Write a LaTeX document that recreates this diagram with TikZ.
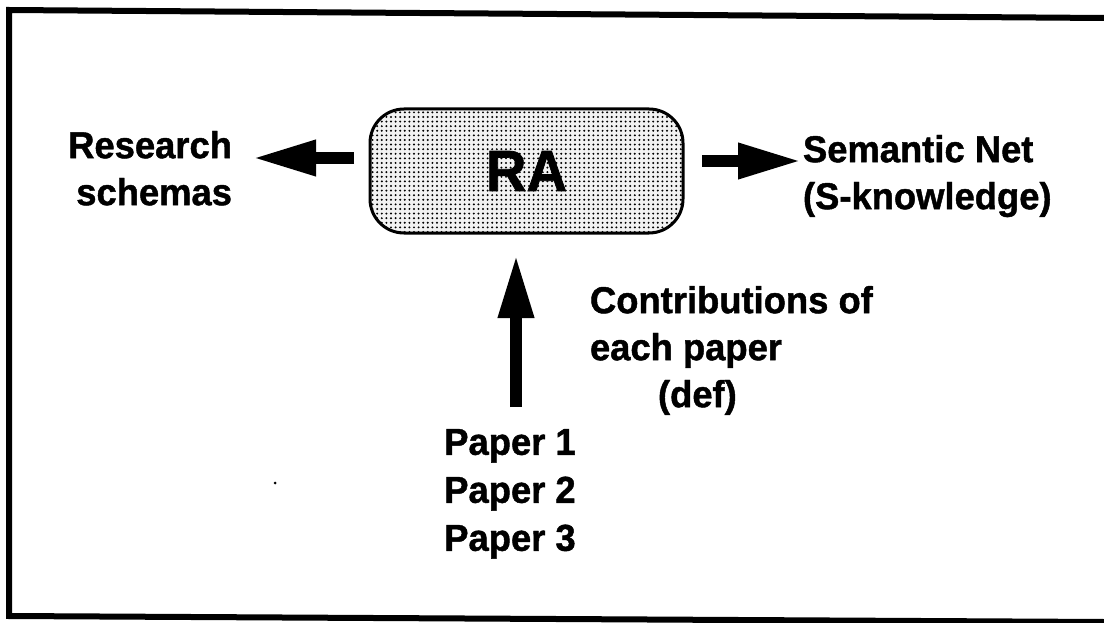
\documentclass[tikz,border=0pt]{standalone}
\usepackage{fontspec}
\setmainfont{Liberation Sans}[BoldFeatures={FakeBold=1.2, FakeStretch=0.97}]
\usetikzlibrary{arrows.meta,patterns.meta}

% fine screen of dots for the shaded box
\pgfdeclarepattern{
  name=screendots,
  type=uncolored,
  bottom left={\pgfpoint{-1.2pt}{-1.2pt}},
  top right={\pgfpoint{1.2pt}{1.2pt}},
  tile size={\pgfpoint{4.6pt}{4.6pt}},
  code={\pgfpathcircle{\pgfpointorigin}{1.1pt}\pgfusepath{fill}}
}

\tikzset{
  label text/.style={inner sep=0pt, outer sep=0pt,
    font=\bfseries\fontsize{37.5}{47}\selectfont},
  agent box/.style={draw, line width=3pt, rounded corners=34pt,
    inner sep=0pt, outer sep=0pt,
    minimum width=313pt, minimum height=124pt,
    preaction={fill=gray!10}, pattern=screendots, pattern color=black,
    font=\bfseries\fontsize{58}{60}\selectfont},
  block arrow/.style={line width=12.5pt,
    -{Triangle[length=64pt,width=33pt]}},
  frame line/.style={line width=6pt, line cap=rect}
}

\begin{document}
\begin{tikzpicture}[x=1pt,y=-1pt]
\useasboundingbox (0,0) rectangle (1104,623);

% page frame (open on the right)
\draw[frame line] (1104,18) -- (9,10) -- (9,616) -- (1104,622);

% central agent
\node[agent box] (ra) at (526.5,171) {RA};

% surrounding labels
\node[label text, align=right, anchor=north east] (research) at (232,131)
  {Research\\schemas};
\node[label text, align=left, anchor=north west] (semantic) at (803,135)
  {Semantic Net\\(S-knowledge)};
\node[label text, align=left, anchor=north west] (contrib) at (590,286)
  {Contributions of\\each paper\\\hspace*{68pt}(def)};
\node[label text, align=center, anchor=north,
      font=\bfseries\fontsize{37.5}{48}\selectfont] (papers) at (510,429)
  {Paper 1\\Paper 2\\Paper 3};

% connectors
\coordinate (la) at ([yshift=13pt]ra.west);
\draw[block arrow, shorten <=16pt, shorten >=20pt] (la) -- (la -| research.east);

\coordinate (rb) at ([yshift=10pt]ra.east);
\draw[block arrow, shorten <=19pt, shorten >=1pt] (rb) -- (rb -| semantic.west);

\coordinate (ub) at ([xshift=6pt]papers.north);
\draw[block arrow, shorten <=22pt, shorten >=21pt] (ub) -- (ub |- ra.south);

% stray speck
\fill (275,483) circle (1.5pt);
\end{tikzpicture}
\end{document}
